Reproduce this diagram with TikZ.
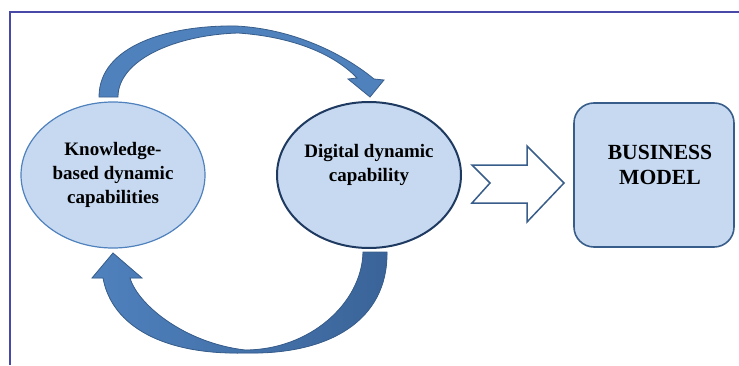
\documentclass[tikz,border=0pt]{standalone}
\usepackage{fontspec}
\setmainfont{Liberation Serif}
\usepackage{xcolor}
\usetikzlibrary{shapes.geometric}

\definecolor{capfill}{HTML}{C6D9F1}
\definecolor{capline}{HTML}{4F81BD}
\definecolor{navyline}{HTML}{1F3A60}
\definecolor{arcblue}{HTML}{4F81BD}
\definecolor{arcdark}{HTML}{3A6499}
\definecolor{arcline}{HTML}{385D8A}
\definecolor{framecol}{HTML}{4848A8}

\tikzset{
  capab/.style={draw=capline, line width=0.6pt, ellipse, fill=capfill,
    minimum width=92pt, minimum height=73pt, inner sep=0pt, align=center,
    font=\bfseries\fontsize{9.5}{12}\selectfont},
  bandarrow/.style={draw=arcline, line width=0.4pt, fill=arcblue},
}

\begin{document}
\begin{tikzpicture}[x=0.5pt,y=0.5pt]
	\useasboundingbox (0,0) rectangle (739,365);
	\draw[framecol, line width=0.8pt] (10,0) -- (10,353) -- (739,353);

	\node[capab] (kbdc) at (113,190) {Knowledge-\\based dynamic\\capabilities};
	\node[capab, draw=navyline, line width=1pt] (ddc) at (369,190) {Digital dynamic\\capability\\\mbox{}};
	\node[draw=arcline, line width=0.8pt, fill=capfill, rounded corners=10pt,
		minimum width=80pt, minimum height=72pt] (bm) at (654,190) {};
	\node[align=center, font=\bfseries\fontsize{10.8}{12.5}\selectfont] (bmtext) at (660,200) {BUSINESS\\MODEL};

	% upper curved arrow
	\draw[bandarrow] (99,268) .. controls (99,320) and (170,340) .. (236,339)
		.. controls (295,336) and (345,310) .. (374,286)
		-- (384,285) -- (370,268) -- (348,286) -- (357,287)
		.. controls (335,310) and (295,328) .. (238,332)
		.. controls (175,330) and (118,305) .. (118,268) -- cycle;

	% lower curved arrow
	\draw[bandarrow, left color=arcblue, right color=arcdark] (387,113) .. controls (388,45) and (330,10) .. (245,12)
		.. controls (165,10) and (112,38) .. (103,87)
		-- (92,87) -- (113,112) -- (142,87) -- (130,87)
		.. controls (138,60) and (185,22) .. (245,15)
		.. controls (310,15) and (362,62) .. (363,113) -- cycle;

	% hollow arrow towards the business model
	\draw[arcline, line width=0.75pt, fill=white] (472,200) -- (527,200) -- (527,219) -- (564,182)
		-- (527,143) -- (527,162) -- (472,162) -- (490,182) -- cycle;
\end{tikzpicture}
\end{document}
